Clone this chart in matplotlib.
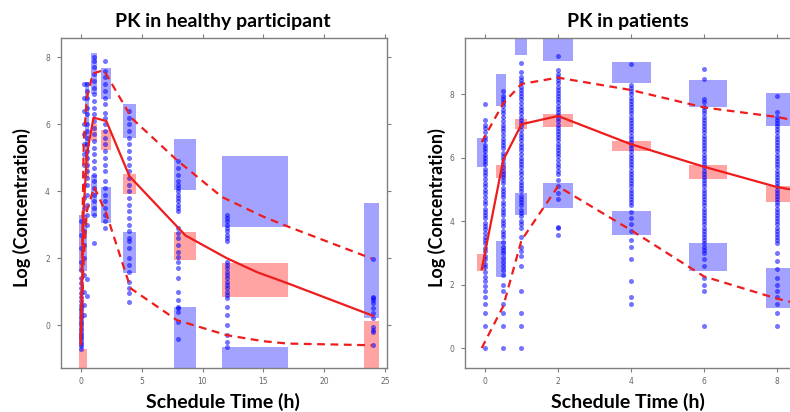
import matplotlib
matplotlib.use("Agg")
import matplotlib.pyplot as plt
from matplotlib.patches import Rectangle

# ---- healthy participants (left panel) ----
h_bin_x = [(-0.15, 0.55), (0.35, 0.68), (0.82, 1.31), (1.67, 2.49),
           (3.5, 4.52), (7.69, 9.47), (11.58, 17.06), (23.3, 24.53)]
h_hi = [(1.62, 3.29), (5.0, 7.27), (6.9, 8.12), (6.75, 7.67),
        (5.58, 6.60), (4.03, 5.56), (2.92, 5.05), (0.20, 3.64)]
h_mid = [(-1.5, -0.7), (4.4, 5.0), (5.5, 6.0), (5.23, 5.83),
         (3.93, 4.53), (1.94, 2.77), (0.85, 1.87), (-1.5, 0.13)]
h_lo = [None, None, (3.26, 4.48), (3.06, 4.13),
        (1.57, 2.79), (-1.5, 0.54), (-1.5, -0.65), None]

h_med_t = [0.0, 0.25, 0.5, 1.05, 2.1, 4.0, 8.6, 12.0, 14.5, 17.0, 24.0]
h_med = [-0.5, 3.5, 5.1, 6.2, 6.1, 4.45, 2.68, 2.0, 1.58, 1.25, 0.28]
h_up_t = [0.0, 0.25, 0.5, 1.0, 1.9, 4.2, 7.9, 11.6, 15.0, 17.06, 23.9]
h_up = [-0.4, 5.5, 6.8, 7.52, 7.62, 6.18, 4.93, 3.83, 3.24, 2.94, 1.99]
h_lo_t = [0.0, 0.25, 0.5, 1.1, 2.1, 4.1, 7.9, 12.0, 15.0, 17.0, 23.9]
h_lo_v = [-0.6, 2.0, 3.4, 4.13, 3.34, 1.1, 0.15, -0.3, -0.48, -0.55, -0.6]

h_obs = {
    0.0: [-0.7, -0.62, -0.55, -0.5, -0.42, -0.36, -0.3, -0.22, -0.15, -0.08, 0.0,
          0.06, 0.12, 0.2, 0.28, 0.35, 0.45, 0.52, 0.6, 0.72, 0.85, 0.95, 1.1,
          1.25, 1.4, 1.65, 1.9, 2.3, 2.7, 3.1],
    0.27: [0.3, 0.6, 1.0, 1.5, 2.0, 2.4, 2.8, 3.1, 3.5, 3.8, 4.2, 4.5, 4.8, 5.1,
           5.4, 5.7, 6.0, 6.4, 6.8, 7.2],
    0.55: [0.88, 1.38, 3.0, 3.3, 3.6, 3.9, 4.2, 4.4, 4.6, 4.8, 5.0, 5.2, 5.4,
           5.6, 5.8, 6.0, 6.3, 6.5, 6.8, 7.0, 7.2],
    1.05: [2.45, 3.3, 3.5, 3.7, 3.9, 4.1, 4.3, 4.5, 4.7, 4.9, 5.1, 5.3, 5.5, 5.7,
           5.9, 6.1, 6.3, 6.5, 6.7, 6.9, 7.1, 7.3, 7.5, 7.7, 7.9, 8.0],
    2.0: [2.9, 3.1, 3.3, 3.5, 3.7, 3.9, 4.1, 4.3, 4.6, 4.8, 5.0, 5.2, 5.4, 5.6,
          5.8, 6.0, 6.2, 6.35, 6.6, 6.8, 7.0, 7.2, 7.4, 7.6, 7.9],
    4.0: [0.7, 0.95, 1.1, 1.3, 1.6, 1.8, 2.0, 2.3, 2.5, 2.6, 2.8, 3.0, 3.2, 3.4,
          3.6, 3.8, 4.0, 4.2, 4.4, 4.6, 4.8, 5.0, 5.2, 5.4, 5.6, 5.8, 6.0, 6.2, 6.4],
    7.97: [-0.4, 0.1, 0.4, 0.5, 0.55, 0.75, 1.0, 1.4, 1.7, 1.9, 2.05, 2.2, 2.4,
           2.6, 2.75, 2.9, 3.4, 3.5, 3.6, 3.7, 3.8, 3.9, 4.0, 4.1, 4.2, 4.3, 4.5,
           4.7, 4.9],
    12.0: [-0.65, -0.5, -0.3, 0.0, 0.3, 0.55, 0.8, 0.9, 1.0, 1.1, 1.2, 1.3, 1.4,
           1.5, 1.6, 1.7, 1.8, 1.9, 2.5, 2.6, 2.7, 2.8, 2.9, 3.0, 3.1, 3.2, 3.3],
    24.0: [1.97, 0.85, 0.8, 0.75, 0.65, 0.5, 0.35, 0.2, -0.05, -0.15, -0.2, -0.6],
}

# ---- patients (right panel) ----
p_bin_x = [(-0.23, 0.02), (0.30, 0.57), (0.82, 1.16), (1.6, 2.42),
           (3.47, 4.54), (5.59, 6.64), (7.70, 8.70)]
p_hi = [(5.72, 6.63), (7.63, 8.66), (9.24, 10.5), (9.05, 10.5),
        (8.37, 9.01), (7.61, 8.47), (7.01, 8.05)]
p_mid = [(2.43, 2.98), (5.36, 5.77), (6.9, 7.22), (6.98, 7.38),
         (6.22, 6.54), (5.33, 5.77), (4.61, 5.11)]
p_lo = [None, (2.24, 3.38), (4.19, 4.88), (4.42, 5.21),
        (3.56, 4.33), (2.43, 3.32), (1.27, 2.53)]

p_t = [-0.09, 0.5, 1.0, 2.0, 4.0, 6.0, 8.0, 8.4]
p_med = [2.48, 5.93, 7.06, 7.32, 6.43, 5.72, 5.08, 5.0]
p_up = [6.5, 7.72, 8.33, 8.53, 8.14, 7.59, 7.29, 7.2]
p_lo_v = [0.0, 1.32, 3.4, 5.1, 3.72, 2.26, 1.56, 1.45]

p_obs = {
    0.0: [0.0, 0.7, 1.1, 1.4, 1.6, 1.8, 1.95, 2.1, 2.25, 2.4, 2.55, 2.65, 2.8, 2.9,
          3.05, 3.15, 3.3, 3.4, 3.5, 3.62, 3.75, 3.85, 3.95, 4.1, 4.2, 4.3, 4.4,
          4.55, 4.65, 4.75, 4.9, 5.0, 5.1, 5.2, 5.32, 5.45, 5.55, 5.65, 5.8, 5.9,
          6.0, 6.1, 6.2, 6.3, 6.42, 6.55, 6.65, 6.8, 6.95, 7.05, 7.2, 7.7],
    0.5: [0.0, 0.7, 1.1, 1.4, 1.8, 2.0, 2.3, 2.45, 2.6, 2.7, 2.85, 3.0, 3.1, 3.2,
          3.35, 3.5, 3.6, 3.7, 3.85, 3.95, 4.05, 4.2, 4.3, 4.4, 4.5, 4.62, 4.75,
          4.85, 4.95, 5.05, 5.2, 5.3, 5.4, 5.5, 5.6, 5.72, 5.85, 5.95, 6.05, 6.15,
          6.3, 6.4, 6.5, 6.6, 6.72, 6.85, 6.95, 7.05, 7.15, 7.3, 7.4, 7.5, 7.62,
          7.75, 7.85, 7.95, 8.1],
    1.0: [0.0, 0.7, 1.1, 1.8, 2.6, 2.9, 3.05, 3.2, 3.5, 3.8, 3.9, 4.0, 4.15, 4.25,
          4.35, 4.5, 4.6, 4.7, 4.8, 4.95, 5.05, 5.15, 5.25, 5.35, 5.5, 5.6, 5.7,
          5.8, 5.9, 6.0, 6.12, 6.25, 6.35, 6.45, 6.55, 6.65, 6.75, 6.88, 7.0, 7.1,
          7.2, 7.3, 7.4, 7.5, 7.6, 7.72, 7.85, 7.95, 8.05, 8.15, 8.25, 8.35, 8.45,
          8.55, 8.7, 9.0],
    2.0: [3.55, 3.8, 3.82, 4.7, 4.9, 5.1, 5.3, 5.5, 5.6, 5.7, 5.8, 5.92, 6.05, 6.15,
          6.25, 6.35, 6.45, 6.55, 6.65, 6.75, 6.85, 6.95, 7.05, 7.15, 7.25, 7.35,
          7.45, 7.55, 7.65, 7.75, 7.85, 7.95, 8.05, 8.15, 8.25, 8.35, 8.45, 8.55,
          8.65, 8.78, 9.2],
    4.0: [1.4, 1.6, 2.1, 2.8, 3.2, 3.4, 3.7, 3.9, 4.1, 4.3, 4.5, 4.6, 4.7, 4.8, 4.9,
          5.0, 5.1, 5.2, 5.3, 5.4, 5.5, 5.6, 5.7, 5.8, 5.9, 6.0, 6.1, 6.2, 6.3, 6.4,
          6.5, 6.6, 6.7, 6.8, 6.9, 7.0, 7.1, 7.2, 7.3, 7.4, 7.5, 7.6, 7.7, 7.8, 7.9,
          8.0, 8.1, 8.2, 8.3, 8.95],
    6.0: [0.7, 1.8, 2.0, 2.2, 2.6, 2.8, 3.0, 3.1, 3.2, 3.3, 3.4, 3.5, 3.6, 3.7, 3.8,
          3.9, 4.0, 4.1, 4.2, 4.3, 4.4, 4.5, 4.6, 4.7, 4.8, 4.9, 5.0, 5.1, 5.2, 5.3,
          5.4, 5.5, 5.6, 5.7, 5.8, 5.9, 6.0, 6.1, 6.2, 6.3, 6.4, 6.5, 6.6, 6.7, 6.8,
          6.9, 7.0, 7.1, 7.2, 7.3, 7.4, 7.5, 7.6, 7.75, 7.85, 8.5, 8.8],
    8.0: [0.7, 1.1, 1.4, 1.6, 1.8, 2.0, 2.2, 2.5, 2.75, 3.0, 3.3, 3.4, 3.5, 3.6,
          3.7, 3.8, 3.9, 4.0, 4.1, 4.2, 4.3, 4.4, 4.5, 4.6, 4.7, 4.8, 4.9, 5.0, 5.1,
          5.2, 5.3, 5.4, 5.5, 5.6, 5.7, 5.8, 5.9, 6.0, 6.1, 6.2, 6.3, 6.4, 6.5, 6.6,
          6.7, 6.8, 6.9, 7.0, 7.1, 7.2, 7.3, 7.45, 7.95],
}

BLUE_BOX = (0.0, 0.0, 1.0, 0.36)
RED_BOX = (1.0, 0.0, 0.0, 0.36)
GREY = '#7f7f7f'
LBL = dict(family='Lato', weight='bold')


def draw_panel(ax, bin_x, hi, mid, lo, obs, med_t, med, up_t, up, low_t, low):
    for (x0, x1), a, b, c in zip(bin_x, hi, mid, lo):
        for rng, col in ((a, BLUE_BOX), (b, RED_BOX), (c, BLUE_BOX)):
            if rng is None:
                continue
            ax.add_patch(Rectangle((x0, rng[0]), x1 - x0, rng[1] - rng[0],
                                   facecolor=col, edgecolor='none', zorder=1))
    for t, vals in obs.items():
        ax.plot([t] * len(vals), vals, 'o', ms=3.6, color='#0000ff',
                alpha=0.55, mec='none', zorder=2)
    ax.plot(med_t, med, '-', color='#ee1c1c', lw=1.6, zorder=3)
    ax.plot(up_t, up, '--', color='#ee1c1c', lw=1.6, dashes=(3.5, 2.5), zorder=3)
    ax.plot(low_t, low, '--', color='#ee1c1c', lw=1.6, dashes=(3.5, 2.5), zorder=3)
    for s in ax.spines.values():
        s.set_color(GREY)
        s.set_linewidth(1.0)
    ax.tick_params(direction='out', length=3, width=0.8, color=GREY,
                   labelsize=5.5, labelcolor='#666666', pad=5,
                   top=True, right=True)
    ax.tick_params(axis='x', pad=3.5)


fig = plt.figure(figsize=(7.9, 4.12), dpi=100)

ax1 = fig.add_axes([61 / 790, 44 / 412, 326 / 790, 330 / 412])
draw_panel(ax1, h_bin_x, h_hi, h_mid, h_lo, h_obs,
           h_med_t, h_med, h_up_t, h_up, h_lo_t, h_lo_v)
ax1.set_xlim(-1.62, 25.15)
ax1.set_ylim(-1.28, 8.58)
ax1.set_xticks([0, 5, 10, 15, 20, 25])
ax1.set_yticks([0, 2, 4, 6, 8])

ax2 = fig.add_axes([465.3 / 790, 44 / 412, 324.7 / 790, 330.3 / 412])
draw_panel(ax2, p_bin_x, p_hi, p_mid, p_lo, p_obs,
           p_t, p_med, p_t, p_up, p_t, p_lo_v)
ax2.set_xlim(-0.54, 8.36)
ax2.set_ylim(-0.63, 9.79)
ax2.set_xticks([0, 2, 4, 6, 8])
ax2.set_yticks([0, 2, 4, 6, 8])
ax2.spines['right'].set_visible(False)
ax2.tick_params(right=False)

fig.text(223 / 790, 1 - 22 / 412, 'PK in healthy participant', ha='center',
         va='center', fontsize=14, **LBL)
fig.text(627.7 / 790, 1 - 22 / 412, 'PK in patients', ha='center',
         va='center', fontsize=14, **LBL)
for xc in (222.7, 627.7):
    fig.text(xc / 790, 1 - 402 / 412, 'Schedule Time (h)', ha='center',
             va='center', fontsize=14, **LBL)
for xc in (21.7, 436.7):
    fig.text(xc / 790, 1 - 208 / 412, 'Log (Concentration)', ha='center',
             va='center', rotation=90, fontsize=13, **LBL)

fig.savefig('out.png', dpi=100)
